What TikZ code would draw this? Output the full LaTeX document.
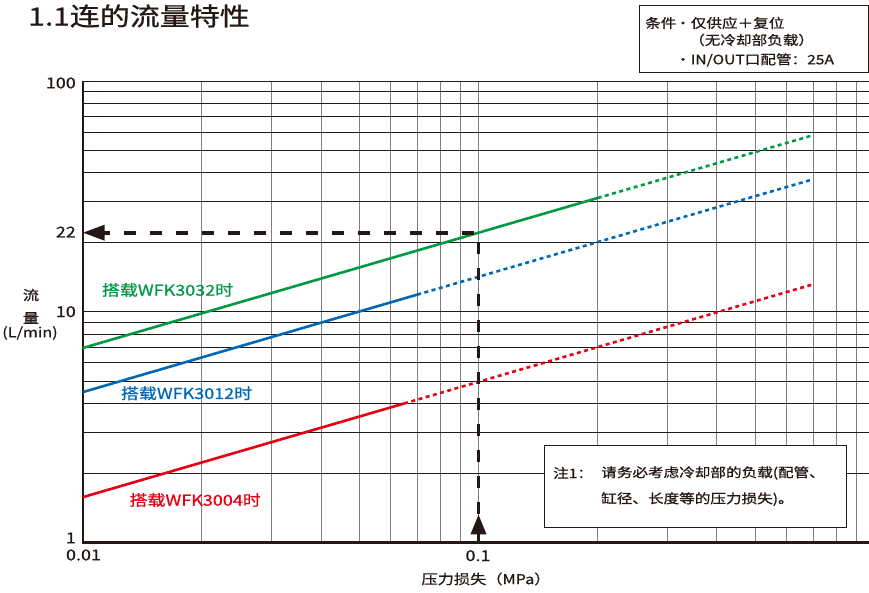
\documentclass[tikz,border=0pt]{standalone}
\usepackage{fontspec}
\setmainfont[FakeStretch=1.2, FakeBold=0.8]{Noto Sans CJK SC}
\usetikzlibrary{arrows.meta, calc}
\definecolor{ink}{HTML}{231815}
\definecolor{wfkgreen}{HTML}{009944}
\definecolor{wfkblue}{HTML}{0068B7}
\definecolor{wfkred}{HTML}{E60012}
\tikzset{gridv/.style={draw=black!50, line width=0.9pt}}
\tikzset{gridh/.style={draw=ink, line width=0.9pt}}
\tikzset{axisline/.style={draw=ink, line width=2.4pt}}
\tikzset{flow/.style={line width=2.6pt}}
\tikzset{flowdot/.style={line width=2.6pt, dash pattern=on 4pt off 3.5pt}}
\tikzset{guide/.style={draw=ink, line width=3.6pt, dash pattern=on 12pt off 14pt}}
\tikzset{guidetip/.style={draw=ink, line width=3.6pt, -{Triangle[length=20pt, width=15pt]}}}
\tikzset{tick/.style={font=\fontsize{15}{15}\selectfont, text=ink, inner sep=0pt}}
\tikzset{legend/.style={font=\fontsize{15}{15}\selectfont, inner sep=0pt, anchor=west}}
\tikzset{remark/.style={font=\fontsize{13}{16}\selectfont, text=ink, inner sep=0pt, anchor=west}}

\begin{document}
\begin{tikzpicture}[x=1pt, y=1pt]
	\useasboundingbox (0,0) rectangle (869,592);
	\node[anchor=west, inner sep=0pt, text=ink, font=\fontsize{25}{25}\selectfont] (title) at (28,576) {1.1连的流量特性};

	\begin{scope}[shift={(82.7pt,49.6pt)}, x=395.8pt, y=230.7pt]
		\foreach \d in {0,1}
			\foreach \k in {2,...,9}
				\draw[gridv] ({\d+log10(\k)},0) -- ({\d+log10(\k)},2);
		\draw[gridv] (1,0) -- (1,2);
		\foreach \d in {0,1}
			\foreach \k in {2,...,9}
				\draw[gridh] (0,{\d+log10(\k)}) -- (1.99,{\d+log10(\k)});
		\draw[gridh] (0,1) -- (1.99,1);
		\draw[gridh] (0,2) -- (1.99,2);
		\draw[axisline] (0,2) -- (0,0) -- (1.99,0);

		\coordinate (g0) at (0,0.8424);
		\coordinate (g1) at (1.301,1.4929);
		\coordinate (g2) at (1.845,1.7649);
		\coordinate (b0) at (0,0.6513);
		\coordinate (b1) at (0.845,1.0738);
		\coordinate (b2) at (1.845,1.5738);
		\coordinate (r0) at (0,0.196);
		\coordinate (r1) at (0.812,0.602);
		\coordinate (r2) at (1.845,1.1185);

		\draw[flow, wfkgreen] (g0) -- (g1);
		\draw[flowdot, wfkgreen] (g1) -- (g2);
		\draw[flow, wfkblue] (b0) -- (b1);
		\draw[flowdot, wfkblue] (b1) -- (b2);
		\draw[flow, wfkred] (r0) -- (r1);
		\draw[flowdot, wfkred] (r1) -- (r2);

		\coordinate (p1) at (1,0);
		\coordinate (c22) at (1,1.3424);
		\coordinate (a22) at (0,1.3424);
		\coordinate (tip) at ($(p1)+(0,28pt)$);
		\draw[guidetip] (p1) -- (tip);
		\draw[guide, -{Triangle[length=22pt, width=15pt]}] (tip) -- (c22) -- (a22);
	\end{scope}

	\node[tick, anchor=east] (y100) at (76,509) {100};
	\node[tick, anchor=east] (y22) at (76,360) {22};
	\node[tick, anchor=east] (y10) at (76,280.3) {10};
	\node[tick, anchor=east] (y1) at (76,54) {1};
	\node[tick] (x001) at (83.5,37) {0.01};
	\node[tick] (x01) at (478,36.3) {0.1};
	\node[tick, font=\fontsize{13.5}{13.5}\selectfont] (xlabel) at (486,13) {压力损失（MPa）};
	\node[tick, font=\fontsize{13.5}{13.5}\selectfont] (ylab1) at (31,297) {流};
	\node[tick, font=\fontsize{13.5}{13.5}\selectfont] (ylab2) at (31,274) {量};
	\node[tick, font=\fontsize{13.5}{13.5}\selectfont] (ylab3) at (30,259) {(L/min)};

	\node[legend, text=wfkgreen] (lg) at (101.7,302) {搭载WFK3032时};
	\node[legend, text=wfkblue] (lb) at (120.7,198.7) {搭载WFK3012时};
	\node[legend, text=wfkred] (lr) at (129.3,92) {搭载WFK3004时};

	\draw[draw=ink, line width=1pt, fill=white] (639,586.3) rectangle (868,519.3);
	\node[remark] (cond) at (645,569) {条件};
	\node[remark] (cond1) at (675,569) {・仅供应＋复位};
	\node[remark] (cond2) at (689,552) {（无冷却部负载）};
	\node[remark] (cond3) at (675,532) {・IN/OUT口配管：25A};

	\draw[draw=ink, line width=1pt, fill=white] (544.3,146.3) rectangle (846,64.7);
	\node[remark] (note) at (553,119) {注1：};
	\node[remark] (note1) at (601,119) {请务必考虑冷却部的负载(配管、};
	\node[remark] (note2) at (601,93) {缸径、长度等的压力损失)。};
\end{tikzpicture}
\end{document}
